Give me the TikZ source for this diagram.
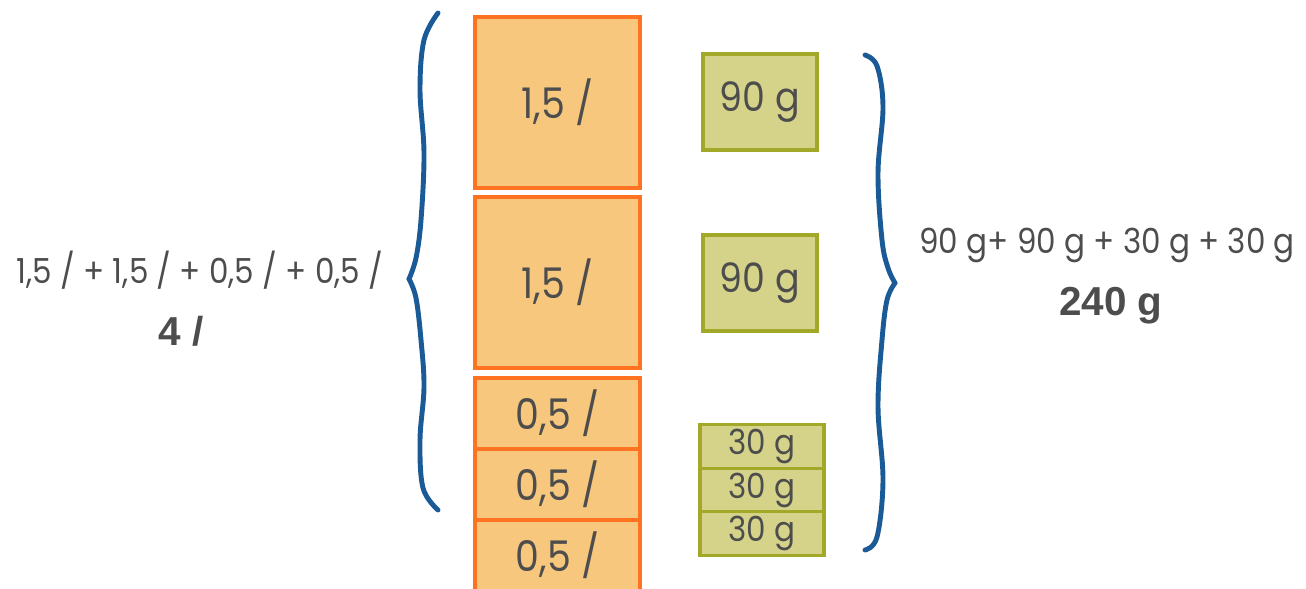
\documentclass[tikz,border=0pt]{standalone}
\usepackage{fontspec}
\setmainfont{Poppins}[FakeStretch=0.9]
\newfontfamily\boldfont{Liberation Sans}
\usepackage{xcolor}
\definecolor{txtgray}{HTML}{4D4D4D}
\definecolor{boxorange}{HTML}{F6C77D}
\definecolor{lineorange}{HTML}{FF7222}
\definecolor{boxgreen}{HTML}{D5D389}
\definecolor{linegreen}{HTML}{A2A827}
\definecolor{braceblue}{HTML}{1A5A96}

\begin{document}
\begin{tikzpicture}[x=0.01cm,y=-0.01cm,
    litre/.style={draw=lineorange,fill=boxorange,line width=0.9pt,minimum width=1.65cm,
        text=txtgray,font=\fontsize{12}{14}\selectfont,inner sep=0pt},
    gram/.style={draw=linegreen,fill=boxgreen,line width=0.9pt,
        text=txtgray,inner sep=0pt},
    brace/.style={draw=braceblue,line width=1.4pt,line cap=round,line join=round},
    sumtext/.style={text=txtgray,font=\fontsize{9.8}{12}\selectfont,inner sep=0pt},
    total/.style={text=txtgray,font=\boldfont\bfseries\fontsize{11.5}{14}\selectfont,inner sep=0pt}]
    \useasboundingbox (0,0) rectangle (1306,589);

    % litres (orange)
    \node[litre,minimum height=1.71cm] (L1) at (557.5,102.5) {1,5 /};
    \node[litre,minimum height=1.71cm] (L2) at (557.5,282.5) {1,5 /};
    \node[litre,minimum height=0.71cm] (L3) at (557.5,413.5) {0,5 /};
    \node[litre,minimum height=0.71cm] (L4) at (557.5,484.5) {0,5 /};
    \node[litre,minimum height=0.71cm] (L5) at (557.5,555.5) {0,5 /};

    % grams (green)
    \node[gram,minimum width=1.14cm,minimum height=0.96cm,font=\fontsize{11.5}{14}\selectfont] (G1) at (760,102) {90 g};
    \node[gram,minimum width=1.14cm,minimum height=0.96cm,font=\fontsize{11.5}{14}\selectfont] (G2) at (760,283) {90 g};
    \node[gram,minimum width=1.24cm,minimum height=0.435cm,font=\fontsize{9.8}{12}\selectfont] (G3) at (762,446.5) {30 g};
    \node[gram,minimum width=1.24cm,minimum height=0.435cm,font=\fontsize{9.8}{12}\selectfont] (G4) at (762,490) {30 g};
    \node[gram,minimum width=1.24cm,minimum height=0.435cm,font=\fontsize{9.8}{12}\selectfont] (G5) at (762,533.5) {30 g};

    % braces
    \draw[brace] plot[smooth,tension=0.6] coordinates {(438,13) (424,40) (420,90) (424,153) (421,220) (416,258) (409,279)};
    \draw[brace] plot[smooth,tension=0.6] coordinates {(409,279) (416,298) (421,340) (424,387) (420,440) (423,488) (438,510)};
    \draw[brace] plot[smooth,tension=0.6] coordinates {(865,55) (877,66) (883,107) (878,173) (882,240) (888,268) (895,283)};
    \draw[brace] plot[smooth,tension=0.6] coordinates {(895,283) (887,300) (882,340) (878,407) (883,480) (877,537) (865,550)};

    % sums
    \node[sumtext] (Lsum) at (200,270) {1,5 / + 1,5 / + 0,5 / + 0,5 /};
    \node[total] (Ltot) at (181,331) {4 /};
    \node[sumtext] (Gsum) at (1107,245) {90 g+ 90 g + 30 g + 30 g};
    \node[total] (Gtot) at (1111,306) {240 g};
\end{tikzpicture}
\end{document}
